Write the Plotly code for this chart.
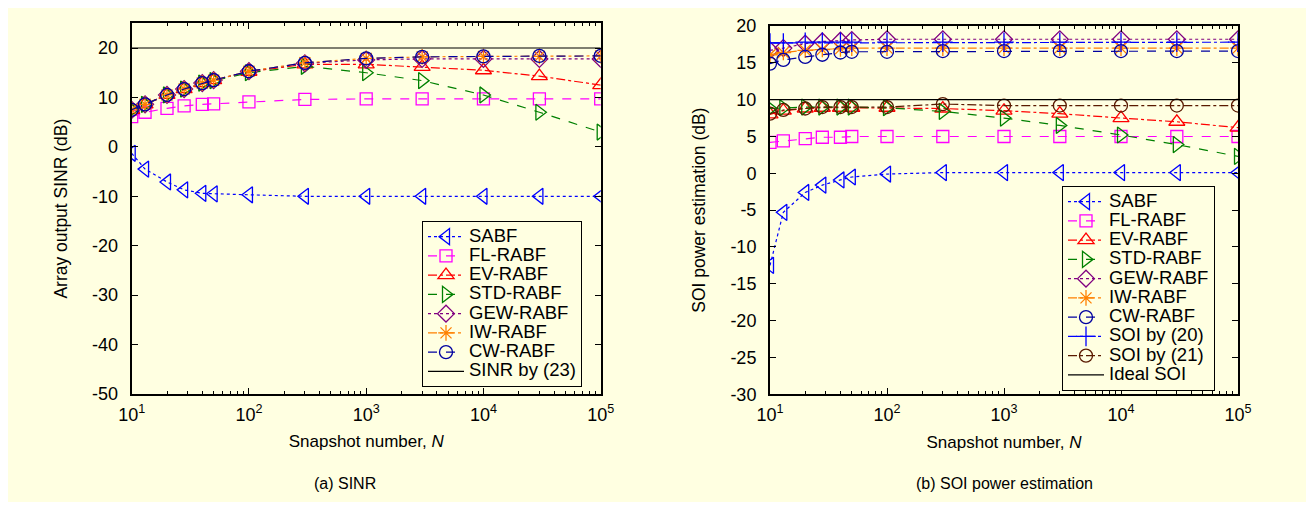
import plotly.graph_objects as go

# ---------------- data ----------------
snapshots = [10, 13, 20, 28, 40, 50, 100, 300, 1000, 3000, 10000, 30000, 100000]

# (a) SINR
sabf_a = [-1.3, -4.5, -7.1, -8.7, -9.4, -9.5, -9.7, -10.0, -10.0, -10.0, -10.0, -10.0, -10.0]
fl_a = [6.1, 7.0, 7.8, 8.3, 8.6, 8.7, 9.1, 9.6, 9.7, 9.7, 9.7, 9.7, 9.7]
ev_a = [7.5, 8.6, 10.5, 11.7, 12.9, 13.5, 15.2, 16.7, 16.7, 16.2, 15.5, 14.3, 12.5]
std_a = [7.5, 8.6, 10.5, 11.7, 12.9, 13.4, 15.0, 16.3, 15.0, 13.4, 10.5, 7.0, 3.0]
gew_a = [7.5, 8.6, 10.5, 11.7, 12.9, 13.5, 15.3, 16.9, 17.6, 17.8, 17.8, 17.8, 17.8]
iw_a = [7.5, 8.6, 10.5, 11.7, 12.9, 13.5, 15.3, 17.0, 17.9, 18.2, 18.3, 18.3, 18.4]
cw_a = [7.5, 8.6, 10.5, 11.7, 12.9, 13.5, 15.3, 17.0, 17.9, 18.2, 18.3, 18.4, 18.4]
sinr23 = [20] * len(snapshots)

# (b) SOI power estimation
sabf_b = [-12.5, -5.3, -2.6, -1.6, -0.9, -0.5, -0.1, 0.1, 0.1, 0.1, 0.1, 0.1, 0.1]
fl_b = [4.2, 4.4, 4.7, 4.9, 4.9, 5.0, 5.0, 5.0, 5.0, 5.0, 5.0, 5.0, 5.0]
ev_b = [8.0, 8.5, 8.8, 8.9, 8.9, 8.9, 8.9, 8.8, 8.5, 8.1, 7.5, 7.0, 6.2]
std_b = [8.8, 8.9, 9.0, 9.0, 9.0, 9.0, 8.9, 8.4, 7.5, 6.5, 5.2, 3.9, 2.3]
gew_b = [16.7, 17.0, 17.6, 17.9, 18.0, 18.1, 18.2, 18.2, 18.2, 18.2, 18.2, 18.2, 18.2]
iw_b = [16.1, 16.4, 16.7, 16.8, 16.9, 17.0, 17.0, 17.0, 17.0, 17.0, 17.0, 17.0, 17.0]
cw_b = [14.9, 15.4, 15.8, 16.1, 16.4, 16.5, 16.5, 16.6, 16.6, 16.6, 16.6, 16.6, 16.6]
soi20 = [17.7, 17.7, 17.8, 17.8, 17.8, 17.8, 17.8, 17.8, 17.8, 17.8, 17.8, 17.8, 17.8]
soi21 = [8.1, 8.6, 8.8, 9.0, 9.0, 9.0, 9.0, 9.4, 9.2, 9.2, 9.2, 9.2, 9.2]
ideal_soi = [10] * len(snapshots)

x_tickvals = [10, 100, 1000, 10000, 100000]
x_ticktext = ["10<sup>1</sup>", "10<sup>2</sup>", "10<sup>3</sup>", "10<sup>4</sup>", "10<sup>5</sup>"]
ya_ticks = [-50, -40, -30, -20, -10, 0, 10, 20]
yb_ticks = [-30, -25, -20, -15, -10, -5, 0, 5, 10, 15, 20]

# ---------------- style ----------------
BG = "#FFFFE1"
FONT = "Liberation Sans, Arial, sans-serif"
LEG_TXT = 18.5
TICK = 18

styles = {
    "SABF": dict(color="#0000FF", dash="dot", symbol="triangle-left-open", size=14),
    "FL-RABF": dict(color="#FF00FF", dash="dash", symbol="square-open", size=12),
    "EV-RABF": dict(color="#FF0000", dash="dashdot", symbol="triangle-up-open", size=14),
    "STD-RABF": dict(color="#008000", dash="dash", symbol="triangle-right-open", size=14),
    "GEW-RABF": dict(color="#800080", dash="dot", symbol="diamond-open", size=13),
    "IW-RABF": dict(color="#FF8000", dash="dashdot", symbol="asterisk-open", size=13),
    "CW-RABF": dict(color="#0000A0", dash="dash", symbol="circle-open", size=13),
    "SOI by (20)": dict(color="#0000FF", dash="dashdot", symbol="cross-thin-open", size=14),
    "SOI by (21)": dict(color="#5A1A00", dash="dashdot", symbol="circle-open", size=13),
}


def label(name):
    return f'<span style="font-size:{LEG_TXT}px">{name}</span>'


fig = go.Figure()


def add(name, y, xaxis, yaxis, legend):
    s = styles[name]
    fig.add_trace(go.Scatter(
        x=snapshots, y=y, name=label(name), mode="lines+markers",
        xaxis=xaxis, yaxis=yaxis, legend=legend,
        line=dict(color=s["color"], dash=s["dash"], width=1.2),
        marker=dict(symbol=s["symbol"], size=s["size"], color=s["color"],
                    line=dict(color=s["color"], width=1.3)),
    ))


for name, y in [("SABF", sabf_a), ("FL-RABF", fl_a), ("EV-RABF", ev_a),
                ("STD-RABF", std_a), ("GEW-RABF", gew_a), ("IW-RABF", iw_a),
                ("CW-RABF", cw_a)]:
    add(name, y, "x", "y", "legend")
fig.add_trace(go.Scatter(x=snapshots, y=sinr23, name=label("SINR by (23)"), mode="lines",
                         xaxis="x", yaxis="y", legend="legend",
                         line=dict(color="#000000", width=1.2)))

for name, y in [("SABF", sabf_b), ("FL-RABF", fl_b), ("EV-RABF", ev_b),
                ("STD-RABF", std_b), ("GEW-RABF", gew_b), ("IW-RABF", iw_b),
                ("CW-RABF", cw_b), ("SOI by (20)", soi20), ("SOI by (21)", soi21)]:
    add(name, y, "x2", "y2", "legend2")
fig.add_trace(go.Scatter(x=snapshots, y=ideal_soi, name=label("Ideal SOI"), mode="lines",
                         xaxis="x2", yaxis="y2", legend="legend2",
                         line=dict(color="#000000", width=1.2)))

W, H = 1298, 494   # page body keeps an 8 px margin


def px(v):
    return (v - 8) / W


def py(v):
    return 1 - (v - 8) / H


xcommon = dict(type="log", range=[1, 5], tickvals=x_tickvals, ticktext=x_ticktext,
               ticks="inside", ticklen=6, tickcolor="black", mirror="allticks",
               showline=True, linecolor="black", linewidth=2, showgrid=False,
               zeroline=False, tickfont=dict(size=TICK, color="black"),
               ticklabelstandoff=3, automargin=False,
               minor=dict(ticks="inside", ticklen=3, tickcolor="black",
                          dtick="D1", showgrid=False),
               title=dict(text="Snapshot number, <i>N</i>", font=dict(size=17, color="black"),
                          standoff=12))
ycommon = dict(ticks="inside", ticklen=6, tickcolor="black", mirror="allticks",
               showline=True, linecolor="black", linewidth=2, showgrid=False,
               zeroline=False, tickfont=dict(size=TICK, color="black"),
               ticklabelstandoff=8, automargin=False)

fig.update_layout(
    width=W, height=H,
    paper_bgcolor=BG, plot_bgcolor=BG,
    font=dict(family=FONT, color="black"),
    margin=dict(l=0, r=0, t=0, b=0),
    showlegend=True,
    xaxis=dict(domain=[px(131.7), px(600.7)], anchor="y", **xcommon),
    yaxis=dict(domain=[py(394), py(23.3)], anchor="x", range=[-50, 25],
               tickvals=ya_ticks, ticktext=[str(v) for v in ya_ticks],
               title=dict(text="Array output SINR (dB)", font=dict(size=17.5, color="black"),
                          standoff=20),
               **ycommon),
    xaxis2=dict(domain=[px(770), px(1238)], anchor="y2", **xcommon),
    yaxis2=dict(domain=[py(394.3), py(26)], anchor="x2", range=[-30, 20],
                tickvals=yb_ticks, ticktext=[str(v) for v in yb_ticks],
                title=dict(text="SOI power estimation (dB)", font=dict(size=17.5, color="black"),
                           standoff=20),
                **ycommon),
    legend=dict(x=px(422), y=py(221), xanchor="left", yanchor="top",
                bgcolor=BG, bordercolor="black", borderwidth=1,
                font=dict(size=12.5, color="black"), tracegroupgap=0,
                itemwidth=36),
    legend2=dict(x=px(1062), y=py(186), xanchor="left", yanchor="top",
                 bgcolor=BG, bordercolor="black", borderwidth=1,
                 font=dict(size=12.5, color="black"), tracegroupgap=0,
                 itemwidth=36),
    annotations=[
        dict(text="(a) SINR", x=px(345), y=py(483), xref="paper", yref="paper",
             xanchor="center", yanchor="middle",
             showarrow=False, font=dict(size=16, color="black")),
        dict(text="(b) SOI power estimation", x=px(1004), y=py(483), xref="paper",
             yref="paper", xanchor="center", yanchor="middle",
             showarrow=False, font=dict(size=16, color="black")),
    ],
)

fig.write_html("out.html")
